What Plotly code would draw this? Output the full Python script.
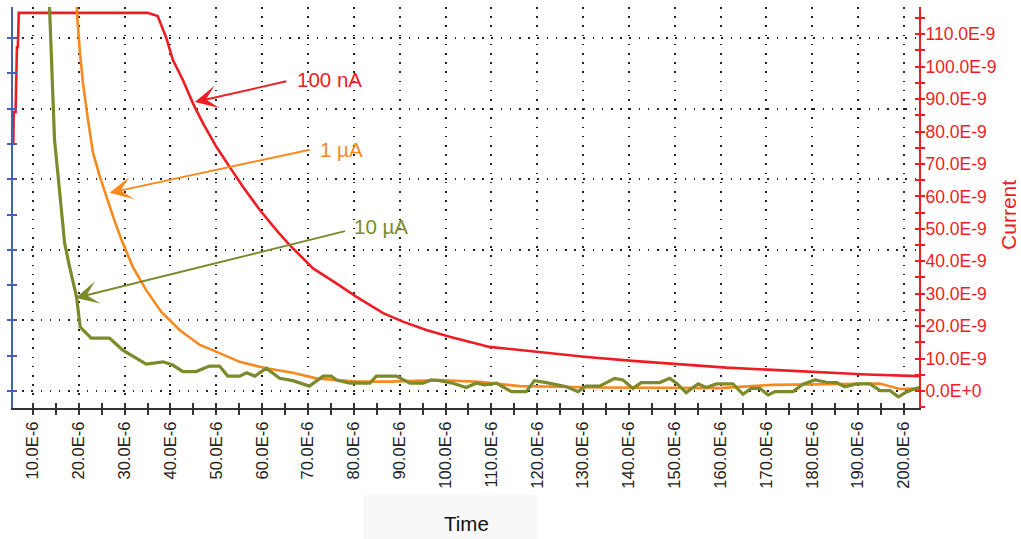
import plotly.graph_objects as go

# ---------------- data (time in µs, current in nA-equivalent on the right scale) -------------
t_100nA = [5.7, 5.8, 6.2, 6.3, 6.5, 6.7, 6.9, 35.0, 37.2, 39.1, 40.5, 42.7, 44.9, 47.1, 50.0,
           52.9, 55.8, 59.5, 63.1, 66.0, 71.1, 76.2, 80.5, 86.4, 90.7, 95.8, 100.9, 109.6,
           120.5, 130.8, 140.8, 151.1, 161.3, 171.4, 181.6, 191.9, 203.3]
i_100nA = [76.0, 86.0, 86.0, 96.0, 106.0, 106.0, 116.6, 116.6, 115.6, 108.8, 102.1, 95.9, 88.7,
           82.5, 75.3, 69.1, 63.0, 55.8, 49.6, 45.0, 37.8, 33.2, 29.1, 24.0, 21.4, 18.8, 16.7,
           13.6, 12.0, 10.5, 9.3, 8.3, 7.2, 6.5, 5.8, 5.1, 4.6]

t_1uA = [19.2, 19.7, 20.2, 20.9, 22.0, 23.1, 24.6, 26.0, 27.5, 29.3, 31.8, 34.7, 38.0, 42.0,
         46.4, 49.2, 55.1, 60.9, 66.7, 71.8, 80.5, 87.8, 98.7, 107.4, 116.2, 133.6, 151.0,
         159.8, 171.3, 183.8, 194.7, 199.1, 203.3]
i_1uA = [130.0, 114.4, 105.1, 95.0, 83.6, 73.4, 66.0, 59.8, 53.7, 46.6, 38.2, 31.1, 24.4, 18.8,
         14.2, 12.6, 9.0, 7.0, 5.6, 3.9, 2.9, 2.9, 3.4, 2.8, 1.5, 1.1, 0.9, 0.9, 1.9, 2.2, 2.3,
         0.6, 0.8]

t_10uA = [13.3, 14.0, 14.4, 14.7, 15.5, 16.2, 16.9, 18.0, 19.5, 20.3, 22.7, 26.7, 29.6, 34.7,
          38.4, 40.5, 42.7, 45.6, 48.5, 50.7, 52.5, 55.1, 56.6, 58.4, 60.9, 63.8, 66.7, 70.3,
          73.3, 75.1, 76.2, 79.1, 83.5, 84.9, 89.3, 92.2, 95.1, 96.9, 98.7, 101.6, 104.5, 106.7,
          108.5, 111.1, 114.4, 117.6, 119.4, 122.0, 126.4, 128.9, 130.7, 133.6, 136.9, 138.7,
          140.9, 142.7, 146.7, 148.9, 150.4, 152.5, 155.1, 156.9, 159.1, 162.7, 164.9, 166.7,
          168.6, 170.4, 171.9, 175.8, 178.0, 180.6, 183.1, 185.3, 187.1, 189.7, 192.6, 194.8,
          197.0, 198.8, 200.3, 202.1, 203.5]
i_10uA = [130.0, 105.1, 89.7, 77.4, 66.0, 54.9, 45.6, 38.2, 29.0, 19.7, 16.3, 16.3, 12.6, 8.3,
          9.0, 8.0, 6.0, 6.0, 7.7, 7.7, 4.6, 4.6, 5.6, 4.6, 7.0, 3.9, 3.2, 1.5, 4.6, 4.6, 3.4,
          2.4, 2.4, 4.6, 4.6, 2.4, 2.4, 3.4, 3.2, 2.4, 1.1, 2.4, 1.9, 2.4, -0.2, -0.2, 3.2, 2.6,
          1.3, -0.2, 1.5, 1.5, 3.9, 3.4, 0.8, 2.6, 2.6, 3.9, 2.4, -0.5, 2.2, 1.1, 2.2, 2.2, -1.0,
          0.8, 0.8, -1.2, -0.2, -0.2, 2.1, 3.4, 2.7, 2.6, 1.3, 2.2, 2.2, 0.1, 0.1, -1.8, -0.5,
          0.5, 1.1]

x_tick_vals = [10, 20, 30, 40, 50, 60, 70, 80, 90, 100, 110, 120, 130, 140, 150, 160, 170,
               180, 190, 200]
x_tick_text = ["10.0E-6", "20.0E-6", "30.0E-6", "40.0E-6", "50.0E-6", "60.0E-6", "70.0E-6",
               "80.0E-6", "90.0E-6", "100.0E-6", "110.0E-6", "120.0E-6", "130.0E-6",
               "140.0E-6", "150.0E-6", "160.0E-6", "170.0E-6", "180.0E-6", "190.0E-6",
               "200.0E-6"]
y_tick_vals = [0, 10, 20, 30, 40, 50, 60, 70, 80, 90, 100, 110]
y_tick_text = ["0.0E+0", "10.0E-9", "20.0E-9", "30.0E-9", "40.0E-9", "50.0E-9", "60.0E-9",
               "70.0E-9", "80.0E-9", "90.0E-9", "100.0E-9", "110.0E-9"]

series_labels = ["100 nA", "1 µA", "10 µA"]

# ---------------- styling ----------------
RED = "#ee1d24"
ORANGE = "#f7891f"
OLIVE = "#7d8a2c"
BLUE = "#4560b5"
GRAY = "#333333"
FONT = "Liberation Sans, Arial, sans-serif"

X_RANGE = [5.64, 203.3]
YL_RANGE = [-0.48, 10.88]
YR_RANGE = [-5.24, 118.4]
GRID_DASH = "1.5px,7.7px"

fig = go.Figure()

fig.add_trace(go.Scatter(x=t_100nA, y=i_100nA, mode="lines", name=series_labels[0],
                         line=dict(color=RED, width=2.6), xaxis="x", yaxis="y2"))
fig.add_trace(go.Scatter(x=t_1uA, y=i_1uA, mode="lines", name=series_labels[1],
                         line=dict(color=ORANGE, width=2.6), xaxis="x", yaxis="y2"))
fig.add_trace(go.Scatter(x=t_10uA, y=i_10uA, mode="lines", name=series_labels[2],
                         line=dict(color=OLIVE, width=3.2), xaxis="x", yaxis="y2"))

# invisible helper traces so that every axis is drawn
fig.add_trace(go.Scatter(x=[None], y=[None], xaxis="x", yaxis="y", showlegend=False,
                         hoverinfo="skip"))
fig.add_trace(go.Scatter(x=[None], y=[None], xaxis="x2", yaxis="y3", showlegend=False,
                         hoverinfo="skip"))
fig.add_trace(go.Scatter(x=[None], y=[None], xaxis="x", yaxis="y4", showlegend=False,
                         hoverinfo="skip"))

fig.update_layout(
    width=1021, height=539,
    margin=dict(l=13, r=102, t=7, b=131),
    plot_bgcolor="white", paper_bgcolor="white",
    showlegend=False,
    font=dict(family=FONT, size=16.5, color="#222222"),
    xaxis=dict(
        range=X_RANGE, tickmode="array", tickvals=x_tick_vals, ticktext=x_tick_text,
        tickangle=-90, ticks="outside", ticklen=5, tickwidth=1.5, tickcolor=GRAY,
        tickfont=dict(size=16.5, color="#222222", family=FONT),
        showline=True, linecolor=GRAY, linewidth=2.2,
        showgrid=True, gridcolor="#222222", gridwidth=1.5, griddash=GRID_DASH,
        minor=dict(tickmode="linear", tick0=0, dtick=5, ticks="outside", ticklen=5,
                   tickwidth=1.5, tickcolor=GRAY, showgrid=False),
        zeroline=False, anchor="y",
    ),
    xaxis2=dict(
        range=X_RANGE, overlaying="x", anchor="y", side="bottom",
        tickmode="array", tickvals=x_tick_vals, ticks="inside", ticklen=5, tickwidth=1.5,
        tickcolor=GRAY, showticklabels=False, showline=False, showgrid=False, zeroline=False,
        minor=dict(tickmode="linear", tick0=0, dtick=5, ticks="inside", ticklen=5,
                   tickwidth=1.5, tickcolor=GRAY, showgrid=False),
    ),
    yaxis=dict(
        range=YL_RANGE, tickmode="linear", tick0=0, dtick=2, ticks="outside", ticklen=4,
        tickwidth=1.5, tickcolor=BLUE, showticklabels=False,
        showline=True, linecolor=BLUE, linewidth=2,
        showgrid=True, gridcolor="#222222", gridwidth=1.5, griddash=GRID_DASH,
        minor=dict(tickmode="linear", tick0=0, dtick=1, ticks="outside", ticklen=4,
                   tickwidth=1.5, tickcolor=BLUE, showgrid=False),
        zeroline=False, anchor="x", side="left",
    ),
    yaxis3=dict(
        range=YL_RANGE, overlaying="y", anchor="x2", side="left",
        tickmode="linear", tick0=0, dtick=2, ticks="inside", ticklen=4, tickwidth=1.5,
        tickcolor=BLUE, showticklabels=False, showline=False, showgrid=False, zeroline=False,
        minor=dict(tickmode="linear", tick0=0, dtick=1, ticks="inside", ticklen=4,
                   tickwidth=1.5, tickcolor=BLUE, showgrid=False),
    ),
    yaxis2=dict(
        range=YR_RANGE, overlaying="y", anchor="x", side="right",
        tickmode="array", tickvals=y_tick_vals, ticktext=y_tick_text,
        ticks="outside", ticklen=4, tickwidth=1.5, tickcolor=RED,
        tickfont=dict(size=17.5, color=RED, family=FONT), ticklabelstandoff=-3,
        showline=True, linecolor=RED, linewidth=2, showgrid=False, zeroline=False,
        minor=dict(tickmode="linear", tick0=0, dtick=5, ticks="outside", ticklen=4,
                   tickwidth=1.5, tickcolor=RED, showgrid=False),
    ),
    yaxis4=dict(
        range=YR_RANGE, overlaying="y", anchor="x", side="right",
        tickmode="array", tickvals=y_tick_vals, ticks="inside", ticklen=4, tickwidth=1.5,
        tickcolor=RED, showticklabels=False, showline=False, showgrid=False, zeroline=False,
        minor=dict(tickmode="linear", tick0=0, dtick=5, ticks="inside", ticklen=4,
                   tickwidth=1.5, tickcolor=RED, showgrid=False),
    ),
)

# light box behind the x title
fig.add_shape(type="rect", xref="paper", yref="paper", x0=0.387, x1=0.579, y0=-0.217,
              y1=-0.33, fillcolor="#f8f8f8", line=dict(width=0), layer="below")

# axis titles
fig.add_annotation(text="Time", xref="paper", yref="paper", x=0.5, y=-0.289,
                   showarrow=False, font=dict(size=20.5, color="#111111", family=FONT),
                   xanchor="center", yanchor="middle")
fig.add_annotation(text="Current", xref="paper", yref="paper", x=1.098, y=0.481,
                   textangle=-90, showarrow=False,
                   font=dict(size=21, color=RED, family=FONT),
                   xanchor="center", yanchor="middle")

# callout arrows (head and tail in data coords) and their labels
callouts = [
    # label, color, head (t, i), tail (t, i), text left (t, i)
    (series_labels[0], RED, (45.3, 89.1), (65.6, 95.6), (67.1, 96.1)),
    (series_labels[1], ORANGE, (26.7, 61.1), (70.7, 74.5), (72.1, 74.5)),
    (series_labels[2], OLIVE, (19.3, 28.7), (78.4, 49.4), (79.5, 50.7)),
]
for label, color, head, tail, txt in callouts:
    fig.add_annotation(x=head[0], y=head[1], xref="x", yref="y2",
                       ax=tail[0], ay=tail[1], axref="x", ayref="y2",
                       text="", showarrow=True, arrowhead=3, arrowsize=2.0,
                       arrowwidth=1.9, arrowcolor=color)
    fig.add_annotation(x=txt[0], y=txt[1], xref="x", yref="y2", text=label,
                       showarrow=False, xanchor="left", yanchor="middle",
                       font=dict(size=20.5, color=color, family=FONT))

fig.write_html("out.html",
               config={"displayModeBar": False},
               post_script="document.body.style.margin='0px';"
                           "document.body.style.overflow='hidden';")
